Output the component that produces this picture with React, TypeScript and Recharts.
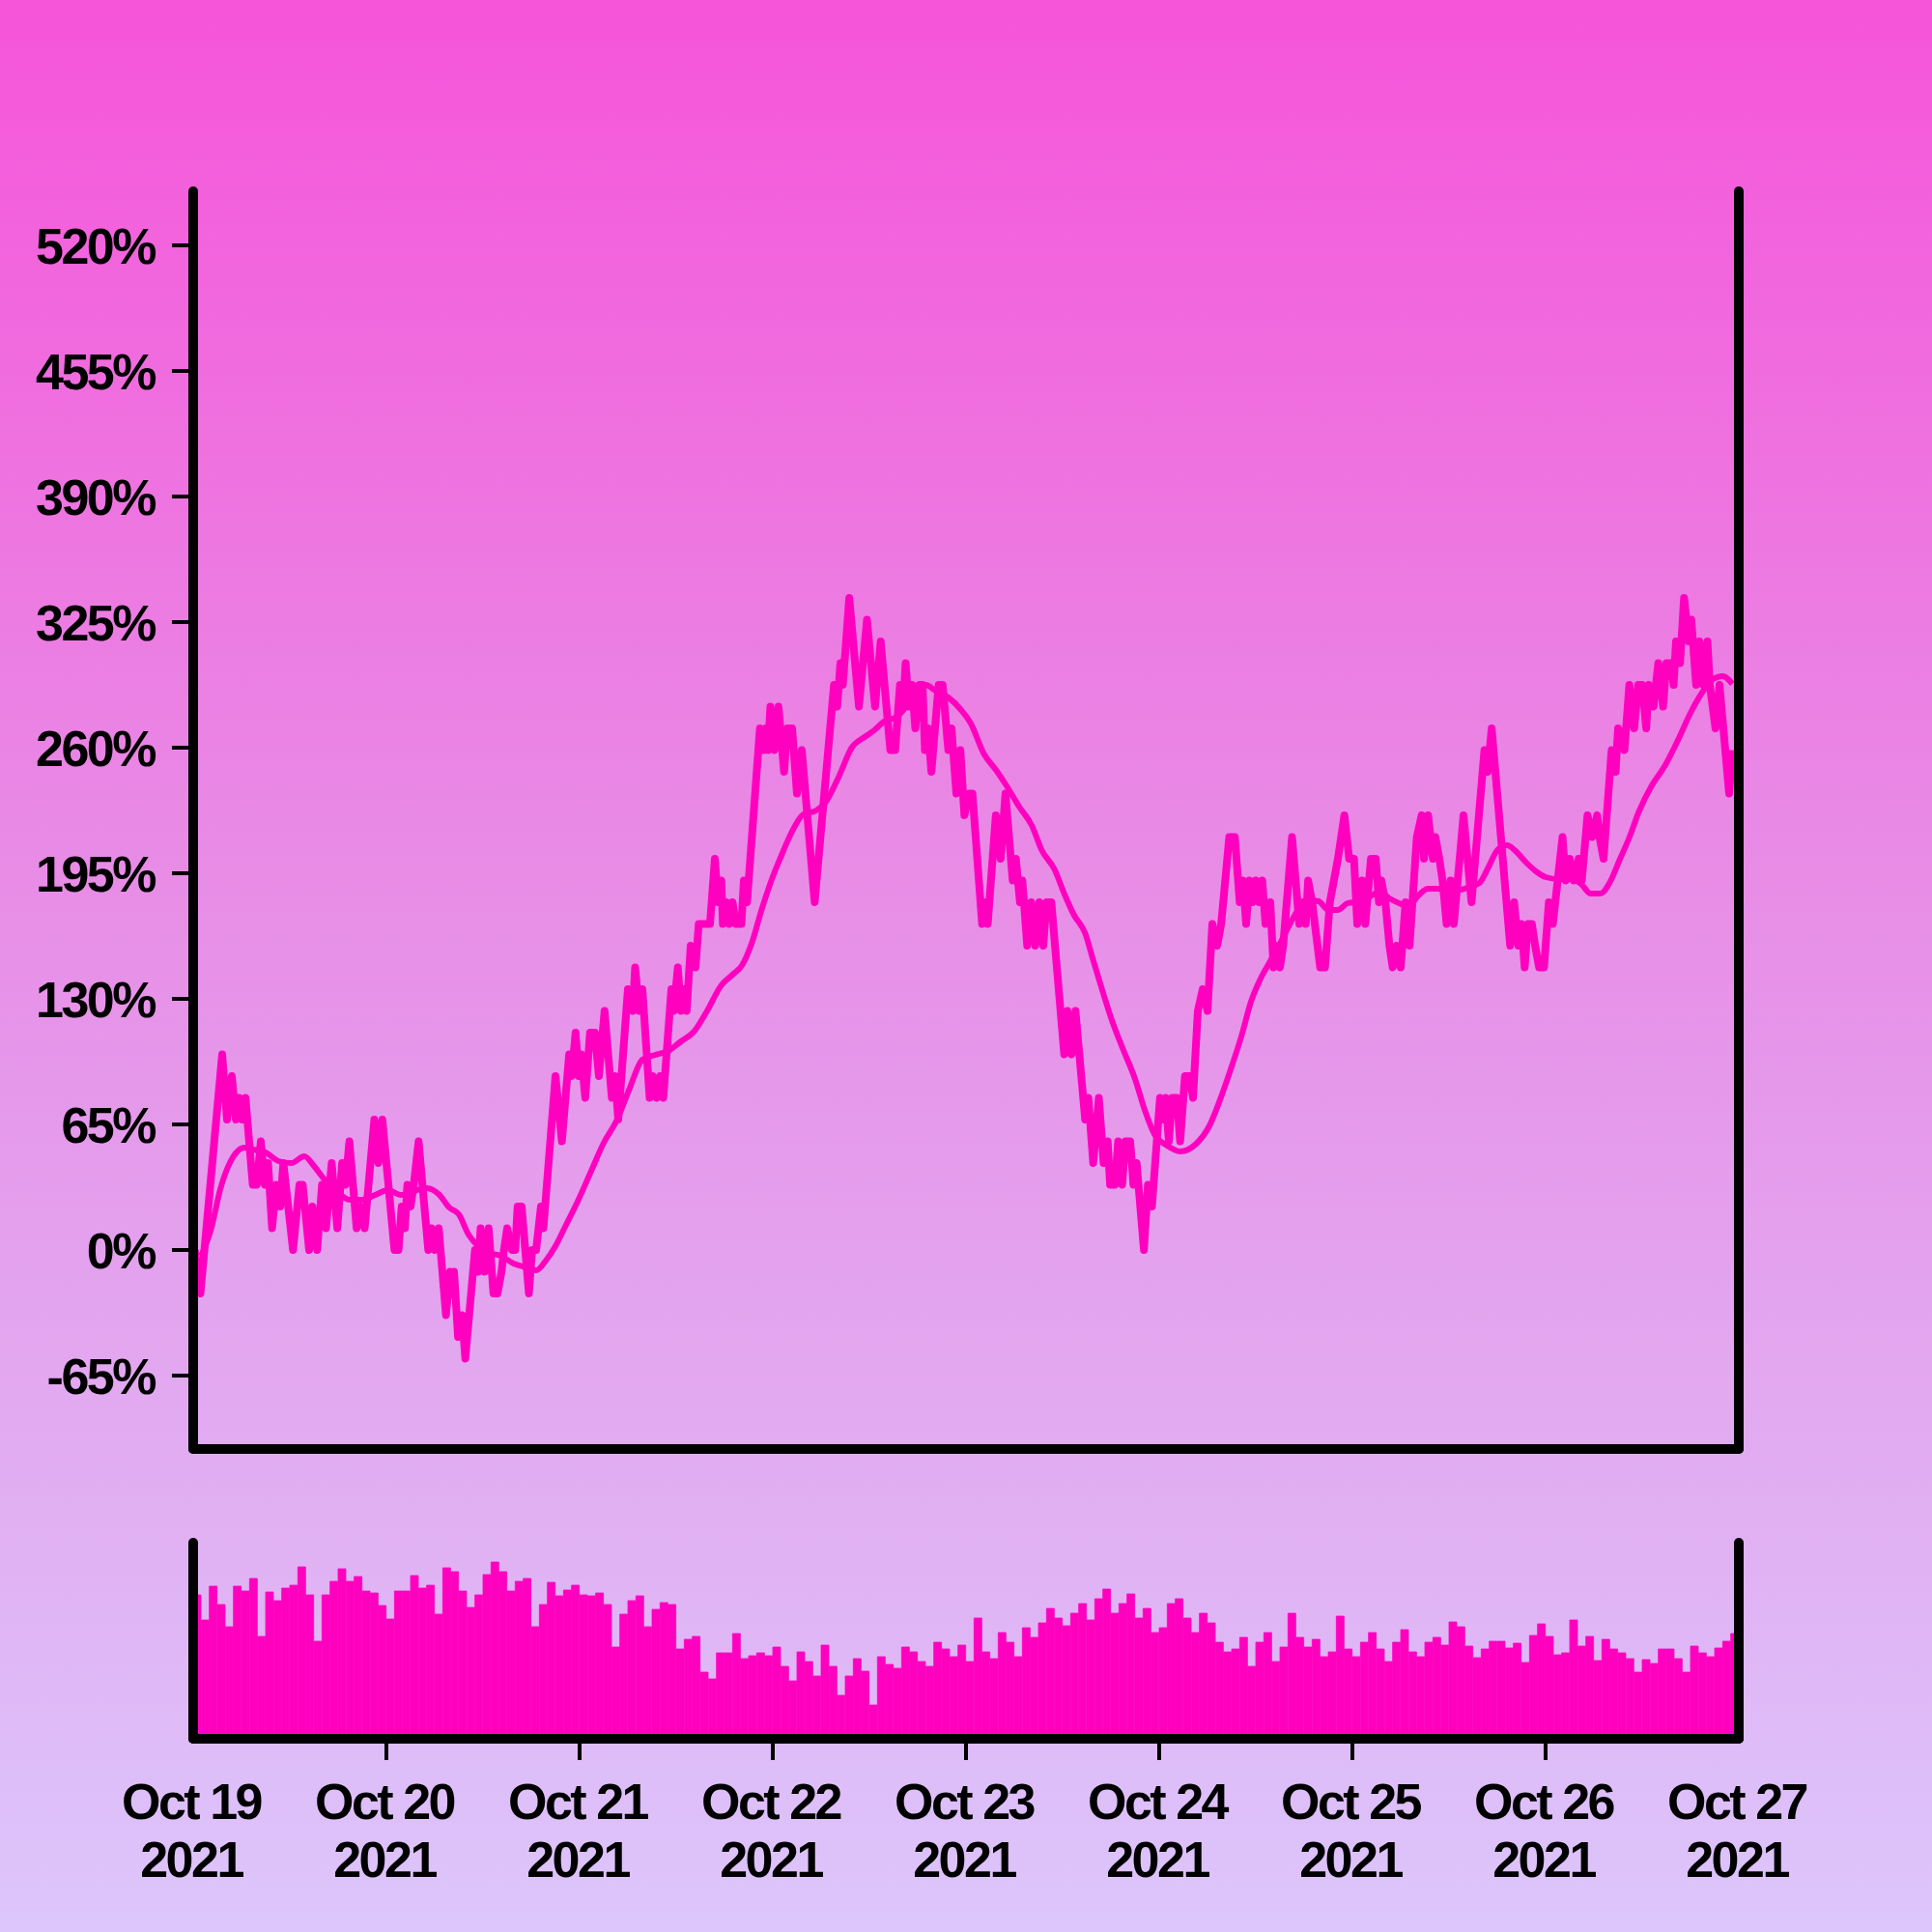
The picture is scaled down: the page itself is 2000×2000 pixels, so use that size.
import { Bar, BarChart, Line, LineChart, XAxis, YAxis } from "recharts";

const PINK = "#ff00bf";
const INK = "#000000";
const FONT = "'Liberation Sans', Arial, Helvetica, sans-serif";

// hours since Oct 19 00:00, percent change
const pricePoints: [number, number][] = [
  [0.2, 0], [0.9, -22.5], [3.6, 101.25], [4.2, 67.5], [4.8, 90], [5.3, 67.5], [5.7, 78.75], [6.1, 67.5], [6.5, 78.75],
  [7.4, 33.75], [7.9, 33.75], [8.4, 56.25], [8.9, 33.75], [9.3, 45], [9.8, 11.25], [10.3, 33.75], [10.8, 22.5], [11.2, 45],
  [12.4, 0], [13.2, 33.75], [13.6, 33.75], [14.4, 0], [14.8, 22.5], [15.4, 0], [16.0, 33.75], [16.5, 11.25], [17.2, 45],
  [17.9, 11.25], [18.5, 45], [18.9, 33.75], [19.4, 56.25], [20.3, 11.25], [20.8, 22.5], [21.3, 11.25], [22.5, 67.5], [23.0, 45],
  [23.5, 67.5], [25.0, 0], [25.5, 0], [25.9, 22.5], [26.3, 11.25], [26.6, 33.75], [27.0, 22.5], [27.4, 33.75], [28.0, 56.25],
  [29.2, 0], [29.6, 11.25], [30.0, 0], [30.5, 11.25], [31.4, -33.75], [31.9, -11.25], [32.2, -22.5], [32.4, -11.25], [32.9, -45],
  [33.4, -33.75], [33.8, -56.25], [35.0, 0], [35.4, -11.25], [35.7, 11.25], [36.2, -11.25], [36.7, 11.25], [37.3, -22.5],
  [37.8, -22.5], [38.3, -11.25], [38.6, 0], [39.0, 11.25], [39.6, 0], [40.0, 0], [40.3, 22.5], [40.8, 22.5], [41.7, -22.5],
  [42.1, 0], [42.6, 0], [43.2, 22.5], [43.5, 11.25], [45.0, 90], [45.8, 56.25], [46.7, 101.25], [47.0, 90], [47.5, 112.5],
  [47.9, 90], [48.2, 101.25], [48.7, 78.75], [49.3, 112.5], [49.9, 112.5], [50.4, 90], [51.1, 123.75], [52.0, 78.75], [52.4, 90],
  [52.8, 67.5], [54.0, 135], [54.6, 123.75], [54.9, 146.25], [55.4, 123.75], [55.8, 135], [56.7, 78.75], [57.1, 90], [57.6, 78.75],
  [58.0, 90], [58.4, 78.75], [59.4, 135], [59.7, 123.75], [60.2, 146.25], [60.6, 123.75], [61.0, 135], [61.3, 123.75],
  [61.8, 157.5], [62.4, 146.25], [62.8, 168.75], [63.8, 168.75],
  [64.2, 168.75], [64.8, 202.5], [65.2, 180], [65.6, 191.25], [65.8, 168.75], [66.2, 180], [66.6, 168.75], [67.0, 180],
  [67.4, 168.75], [68.1, 168.75], [68.4, 191.25], [68.8, 180], [70.4, 270], [70.8, 258.75], [71.1, 270], [71.4, 258.75],
  [71.7, 281.25], [72.2, 258.75], [72.7, 281.25], [73.4, 247.5], [73.8, 270], [74.4, 270], [75.0, 236.25], [75.6, 258.75],
  [77.2, 180], [79.6, 292.5], [80.0, 281.25], [80.4, 303.75], [80.7, 292.5], [81.5, 337.5], [82.7, 281.25], [83.7, 326.25],
  [84.7, 281.25], [85.4, 315], [86.6, 258.75], [87.2, 258.75], [87.8, 292.5], [88.2, 281.25], [88.5, 303.75], [88.9, 281.25],
  [89.3, 292.5], [89.7, 270], [90.2, 292.5], [90.6, 292.5], [90.9, 258.75], [91.3, 270], [91.7, 247.5], [92.6, 292.5],
  [93.1, 292.5], [93.8, 258.75], [94.2, 270], [94.8, 236.25], [95.3, 258.75], [95.8, 225], [96.4, 236.25], [96.8, 236.25],
  [98.0, 168.75], [98.4, 180], [98.7, 168.75], [99.7, 225], [100.3, 202.5], [100.9, 236.25], [101.8, 191.25], [102.2, 202.5],
  [102.7, 180], [103.0, 191.25], [103.6, 157.5], [104.1, 180], [104.6, 157.5], [105.1, 180], [105.6, 157.5], [106.0, 180],
  [106.6, 180], [108.2, 101.25], [108.6, 123.75], [109.1, 101.25], [109.6, 123.75], [110.8, 67.5], [111.2, 78.75], [111.8, 45],
  [112.5, 78.75], [113.1, 45], [113.6, 56.25], [113.9, 33.75], [114.5, 33.75], [114.9, 56.25], [115.4, 33.75], [115.8, 56.25],
  [116.4, 56.25], [116.8, 33.75], [117.2, 45], [118.1, 0], [118.6, 33.75], [119.1, 22.5], [120.1, 78.75], [120.5, 67.5],
  [120.8, 78.75], [121.2, 56.25], [121.6, 78.75], [122.2, 78.75], [122.6, 56.25], [123.2, 90], [123.8, 90], [124.2, 78.75],
  [124.8, 123.75], [125.4, 135], [126.0, 123.75], [126.6, 168.75], [127.2, 157.5], [127.7, 168.75], [128.7, 213.75], [129.4, 213.75],
  [130.0, 180], [130.4, 191.25], [130.8, 168.75], [131.2, 191.25], [131.6, 180], [132.0, 191.25], [132.4, 180], [132.8, 191.25],
  [133.2, 168.75], [133.8, 180], [134.2, 146.25], [134.6, 157.5], [135.0, 146.25], [135.4, 157.5], [136.5, 213.75], [137.4, 168.75],
  [137.8, 180], [138.2, 168.75], [138.5, 191.25], [139.0, 180], [140.0, 146.25], [140.6, 146.25], [141.2, 180], [141.7, 191.25],
  [142.2, 202.5], [143.0, 225], [143.6, 202.5], [144.2, 202.5], [144.6, 168.75], [145.2, 191.25], [145.6, 168.75], [146.3, 202.5],
  [146.9, 202.5], [147.3, 180], [147.6, 191.25], [148.1, 180], [148.6, 157.5], [149.0, 146.25], [149.5, 157.5], [150.0, 146.25],
  [150.6, 180], [151.1, 157.5], [152.0, 213.75], [152.6, 225], [152.9, 202.5], [153.4, 225], [154.0, 202.5], [154.3, 213.75],
  [154.8, 202.5], [155.2, 191.25], [155.7, 168.75], [156.2, 191.25], [156.6, 168.75], [157.8, 225], [158.8, 180],
  [160.4, 258.75], [160.8, 247.5], [161.3, 270], [163.6, 157.5], [164.1, 180], [164.6, 157.5], [165.0, 168.75], [165.4, 146.25],
  [165.8, 168.75], [166.3, 168.75], [166.7, 157.5], [167.2, 146.25], [167.8, 146.25], [168.4, 180], [168.9, 168.75], [169.2, 180],
  [170.1, 213.75], [170.5, 191.25], [171.0, 202.5], [171.5, 191.25], [172.1, 202.5], [172.5, 191.25], [173.2, 225], [173.8, 213.75],
  [174.4, 225], [174.7, 213.75], [175.2, 202.5], [176.2, 258.75], [176.7, 247.5], [177.0, 270], [177.8, 258.75], [178.4, 292.5],
  [179.0, 270], [179.5, 292.5], [180.0, 292.5], [180.5, 270], [180.8, 292.5], [181.4, 281.25], [182.0, 303.75], [182.6, 281.25],
  [183.0, 303.75], [183.6, 303.75], [183.9, 292.5], [184.2, 315], [184.7, 303.75], [185.2, 337.5], [185.8, 315], [186.1, 326.25],
  [186.7, 292.5], [187.1, 315], [187.6, 292.5], [188.1, 315], [188.4, 292.5], [189.1, 270], [189.6, 292.5], [190.8, 236.25],
  [191.2, 258.75],
];

// moving average, read at a coarser step
const avgPoints: [number, number][] = [
  [1.0, -3], [2.2, 10.5], [3.4, 32], [4.6, 45.5], [6.4, 53], [7.4, 52], [9.0, 50.5], [10.6, 46], [12.2, 45], [13.8, 48.5],
  [15.0, 43.5], [16.2, 37], [17.8, 30.5], [19.4, 26], [21.0, 26], [22.6, 28.5], [24.2, 31], [25.8, 28.5], [27.4, 30.5],
  [29.0, 32], [30.6, 28.5], [31.8, 22], [33.0, 18.5], [34.2, 8], [35.4, 2], [36.6, -1.5], [38.2, -3], [39.8, -7], [41.4, -9],
  [42.6, -10.5], [43.8, -5.5], [45.0, 2], [46.2, 12], [47.8, 25.5], [49.4, 40.5], [51.0, 55.5], [52.6, 67], [54.2, 83.5],
  [55.8, 98.5], [57.4, 101], [59.0, 103], [60.6, 108], [62.2, 113], [63.8, 123.5], [65.6, 137], [67.0, 142.5], [68.2, 147.5],
  [69.4, 159], [70.6, 176], [71.8, 191], [73.0, 203.5], [74.2, 215], [75.8, 225.5], [77.4, 227.5], [78.6, 232], [80.2, 245],
  [81.8, 260], [83.4, 265.5], [84.6, 269], [85.8, 273.5], [87.4, 276], [88.6, 281.5], [89.8, 289.5], [91.0, 292.5],
  [92.2, 289.5], [93.8, 286], [95.4, 279.5], [96.6, 272.5], [98.2, 257], [99.8, 248], [101.0, 240.5], [102.6, 229.5],
  [104.2, 219.5], [105.4, 207], [107.0, 197], [108.2, 184.5], [109.4, 173.5], [110.8, 164], [111.8, 150], [113.0, 133.5],
  [114.2, 118], [115.4, 105], [117.0, 88.5], [118.2, 72.5], [119.4, 60], [121.0, 54], [122.6, 51], [124.6, 55], [126.2, 64],
  [127.8, 80.5], [129.0, 95], [130.2, 110.5], [131.4, 128.5], [132.6, 140.5], [133.8, 149.5], [135.0, 158.5], [136.2, 168.5],
  [137.4, 177], [138.6, 181], [139.8, 180.5], [141.0, 176], [142.2, 176], [143.4, 179.5], [145.0, 180.5], [146.2, 183],
  [147.4, 185.5], [148.6, 182], [149.8, 179.5], [151.0, 178], [152.2, 183.5], [153.4, 187], [154.6, 187], [155.8, 185.5],
  [157.0, 186], [158.6, 188], [159.8, 190], [161.0, 199], [162.0, 207], [163.2, 209.5], [164.4, 206], [165.6, 200.5],
  [166.8, 196], [168.0, 193], [169.6, 192], [171.2, 192], [172.4, 189.5], [173.6, 184.5], [174.8, 184.5], [176.0, 190.5],
  [177.2, 202], [178.4, 213.5], [179.6, 227], [181.2, 240.5], [182.8, 250.5], [184.4, 263.5], [186.0, 278], [187.6, 289.5],
  [188.8, 295.5], [190.0, 297], [191.2, 293],
];

// hourly volume, arbitrary units
const volume = [
  144, 118, 153, 134, 111, 153, 148, 161, 101, 147, 138, 151, 154, 173, 144, 96, 144, 158, 171, 158, 163, 148, 146, 133,
  119, 148, 148, 164, 151, 154, 124, 172, 168, 148, 131, 144, 165, 178, 168, 148, 158, 161, 111, 134, 157, 143, 149, 154,
  144, 143, 146, 134, 90, 124, 138, 143, 111, 129, 136, 134, 88, 98, 101, 64, 57, 84, 84, 104, 78, 81, 84, 81,
  90, 70, 55, 85, 75, 60, 92, 70, 40, 60, 78, 65, 30, 80, 72, 68, 90, 85, 75, 70, 95, 88, 80, 92,
  75, 120, 85, 78, 105, 95, 80, 110, 100, 115, 130, 120, 112, 125, 135, 118, 140, 150, 125, 135, 145, 120, 130, 105,
  110, 135, 140, 120, 105, 125, 115, 95, 85, 88, 100, 70, 95, 105, 75, 90, 125, 100, 90, 98, 80, 85, 122, 88,
  80, 95, 105, 88, 75, 95, 108, 85, 80, 95, 100, 92, 116, 111, 91, 79, 88, 96, 96, 89, 94, 74, 102, 114,
  101, 82, 84, 118, 91, 101, 76, 98, 88, 84, 78, 64, 77, 73, 88, 88, 78, 64, 91, 84, 80, 89, 96, 104,
];

const pctTicks = [-65, 0, 65, 130, 195, 260, 325, 390, 455, 520];
const dayHours = [0, 24, 48, 72, 96, 120, 144, 168, 192];
const dayLabels = ["Oct 19", "Oct 20", "Oct 21", "Oct 22", "Oct 23", "Oct 24", "Oct 25", "Oct 26", "Oct 27"];
const yearLabels = ["2021", "2021", "2021", "2021", "2021", "2021", "2021", "2021", "2021"];

const priceData = pricePoints.map(([t, pct]) => ({ t, pct }));
const avgData = avgPoints.map(([t, pct]) => ({ t, pct }));
const volumeData = volume.map((v, h) => ({ t: h + 0.5, v }));

const frameLine = { stroke: INK, strokeWidth: 10, strokeLinecap: "round" as const };
const labelStyle = { fontFamily: FONT, fontWeight: 700, fontSize: 52, letterSpacing: "-2.5px" };

function PctTick(props: any) {
  const { y, payload } = props;
  return (
    <g>
      <line x1={178} x2={200} y1={y} y2={y} stroke={INK} strokeWidth={4} />
      <text x={160} y={y} dy="0.36em" textAnchor="end" fill={INK} style={labelStyle}>
        {`${payload.value}%`}
      </text>
    </g>
  );
}

function DayTick(props: any) {
  const { x, payload } = props;
  const i = dayHours.indexOf(payload.value);
  const inner = i > 0 && i < dayHours.length - 1;
  return (
    <g>
      {inner && <line x1={x} x2={x} y1={300} y2={322} stroke={INK} strokeWidth={4} />}
      <text x={x - 2} y={383} textAnchor="middle" fill={INK} style={labelStyle}>
        {dayLabels[i]}
      </text>
      <text x={x - 2} y={443} textAnchor="middle" fill={INK} style={labelStyle}>
        {yearLabels[i]}
      </text>
    </g>
  );
}

export default function App() {
  return (
    <div
      style={{
        position: "fixed",
        left: 0,
        top: 0,
        width: 2000,
        height: 2000,
        background: "linear-gradient(180deg, #f654d9 0%, #e88ce6 45%, #dcc6fb 100%)",
        overflow: "hidden",
      }}
    >
      <div style={{ position: "absolute", left: 0, top: 0 }}>
        <LineChart width={2000} height={1540} margin={{ top: 198, right: 199, bottom: 39, left: 0 }}>
          <Line
            data={priceData}
            dataKey="pct"
            type="linear"
            stroke={PINK}
            strokeWidth={8}
            strokeLinejoin="round"
            dot={false}
            isAnimationActive={false}
          />
          <Line
            data={avgData}
            dataKey="pct"
            type="monotone"
            stroke={PINK}
            strokeWidth={6}
            dot={false}
            isAnimationActive={false}
          />
          <XAxis
            dataKey="t"
            type="number"
            domain={[0, 192]}
            allowDataOverflow
            height={1}
            tick={false}
            tickLine={false}
            axisLine={frameLine}
          />
          <YAxis
            type="number"
            domain={[-103, 548]}
            allowDataOverflow
            ticks={pctTicks}
            width={200}
            tick={PctTick}
            tickLine={false}
            axisLine={frameLine}
          />
          <YAxis
            yAxisId="right"
            orientation="right"
            type="number"
            domain={[-103, 548]}
            width={1}
            tick={false}
            tickLine={false}
            axisLine={frameLine}
          />
        </LineChart>
      </div>
      <div style={{ position: "absolute", left: 0, top: 1500 }}>
        <BarChart
          width={2000}
          height={500}
          data={volumeData}
          barCategoryGap={0}
          barGap={0}
          margin={{ top: 97, right: 199, bottom: 199, left: 199 }}
        >
          <Bar dataKey="v" fill={PINK} stroke={PINK} strokeWidth={0.8} isAnimationActive={false} />
          <XAxis
            dataKey="t"
            type="number"
            domain={[0, 192]}
            allowDataOverflow
            ticks={dayHours}
            interval={0}
            height={1}
            tick={DayTick}
            tickLine={false}
            axisLine={frameLine}
          />
          <YAxis type="number" domain={[-5, 198]} allowDataOverflow width={1} tick={false} tickLine={false} axisLine={frameLine} />
          <YAxis
            yAxisId="right"
            orientation="right"
            type="number"
            domain={[-5, 198]}
            width={1}
            tick={false}
            tickLine={false}
            axisLine={frameLine}
          />
        </BarChart>
      </div>
    </div>
  );
}
